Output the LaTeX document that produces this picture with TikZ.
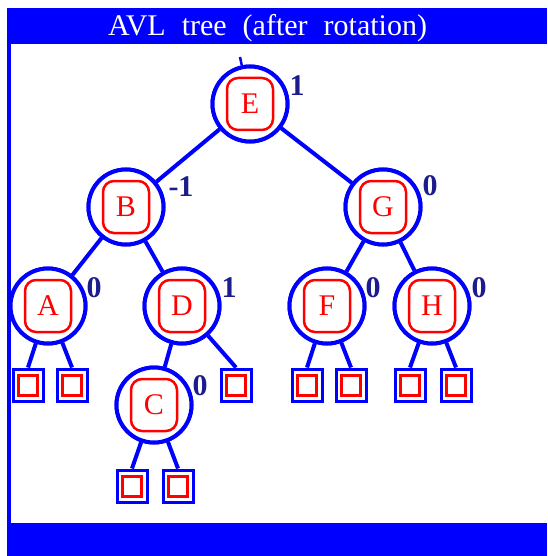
\documentclass[tikz,border=0pt]{standalone}
\usepackage{fontspec}
\setmainfont{Liberation Serif}
\begin{document}
\definecolor{avlblue}{RGB}{0,0,255}
\definecolor{avlred}{RGB}{255,0,0}
\definecolor{balnavy}{RGB}{28,28,140}
\begin{tikzpicture}[x=1pt,y=-1pt,
  vtx/.style={circle,draw=avlblue,line width=4pt,fill=white,minimum size=75pt,inner sep=0pt},
  keybox/.style={draw=avlred,line width=2.5pt,rounded corners=11pt,minimum width=46pt,minimum height=52pt,inner sep=0pt,text=avlred,font=\fontsize{30}{32}\selectfont},
  leaf/.style={draw=avlblue,line width=3pt,fill=white,minimum width=30pt,minimum height=32pt,inner sep=0pt},
  leafin/.style={draw=avlred,line width=3pt,minimum width=19pt,minimum height=20pt,inner sep=0pt},
  bal/.style={text=balnavy,font=\bfseries\fontsize{30}{32}\selectfont,inner sep=0pt},
  link/.style={draw=avlblue,line width=4pt}]
\useasboundingbox (0,0) rectangle (547,556);
% frame: title bar, left rule, bottom bar
\fill[white] (0,0) rectangle (547,556);
\fill[avlblue] (7,8) rectangle (547,44);
\fill[avlblue] (7,44) rectangle (11,523);
\fill[avlblue] (7,523) rectangle (547,556);
\node[text=white,font=\fontsize{30}{33}\selectfont,inner sep=0pt] (title) at (267.5,28.5)
  {AVL\hspace{16pt}tree\hspace{16pt}(after\hspace{16pt}rotation)};

% internal nodes
\node[vtx] (E) at (250,104) {};
\node[vtx] (B) at (126,207) {};
\node[vtx] (G) at (383,207) {};
\node[vtx] (A) at (48,306) {};
\node[vtx] (D) at (182,306) {};
\node[vtx] (F) at (327,306) {};
\node[vtx] (H) at (432,306) {};
\node[vtx] (C) at (154,405) {};

% external (empty) leaves
\foreach \n/\x/\y in {a1/28/385, a2/72/385, d2/236/385, f1/307/385, f2/351/385,
                      h1/410/385, h2/456/385, c1/132/486, c2/178/486}{
  \node[leaf] (\n) at (\x,\y) {};
}

% connectors
\coordinate (Etop) at (240,57);
\draw[avlblue,line width=2.5pt] (Etop) -- (E);
\draw[link] (E) -- (B);
\draw[link] (E) -- (G);
\draw[link] (B) -- (A);
\draw[link] (B) -- (D);
\draw[link] (G) -- (F);
\draw[link] (G) -- (H);
\draw[link] (D) -- (C);
\draw[link] (A) -- (a1.north);
\draw[link] (A) -- (a2.north);
\draw[link] (D) -- (d2.north);
\draw[link] (F) -- (f1.north);
\draw[link] (F) -- (f2.north);
\draw[link] (H) -- (h1.north);
\draw[link] (H) -- (h2.north);
\draw[link] (C) -- (c1.north);
\draw[link] (C) -- (c2.north);

% redraw circles and leaves on top of connectors
\foreach \n in {E,B,G,A,D,F,H,C}{
  \node[vtx] at (\n) {};
  \node[keybox] (\n-key) at (\n) {\n};
}
\foreach \n in {a1,a2,d2,f1,f2,h1,h2,c1,c2}{
  \node[leaf] at (\n) {};
  \node[leafin] (\n-in) at (\n) {};
}

% balance factors
\node[bal] (bE) at (297,86) {1};
\node[bal] (bB) at (181,187) {-1};
\node[bal] (bG) at (430,186) {0};
\node[bal] (bA) at (94,288) {0};
\node[bal] (bD) at (229,288) {1};
\node[bal] (bF) at (373,288) {0};
\node[bal] (bH) at (479,288) {0};
\node[bal] (bC) at (200,386) {0};
\end{tikzpicture}
\end{document}
